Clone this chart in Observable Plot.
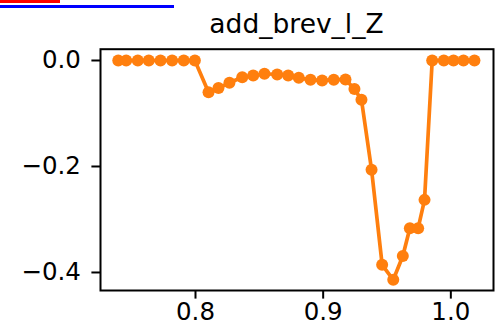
<!DOCTYPE html>
<html>
<head>
<meta charset="utf-8">
<script src="https://cdn.jsdelivr.net/npm/d3@7"></script>
<script src="https://cdn.jsdelivr.net/npm/@observablehq/plot@0.6"></script>
<style>
  body { margin: 0; background: #fff; }
  #wrap { width: 495px; position: relative; font-family: "DejaVu Sans", sans-serif; }
  #title { height: 30px; padding-top: 9px; line-height: 30px; font-size: 26.5px; color: #000;
           padding-left: 100px; padding-right: 2px; text-align: center; white-space: nowrap; }
  #chart svg text { font-size: 24.5px !important; font-family: "DejaVu Sans", sans-serif !important; font-variant: normal !important; }
  #bar1, #bar2 { position: absolute; left: 0; height: 3px; background: red; }
  #bar1 { top: 0; } #bar2 { top: 5px; background: blue; }
</style>
</head>
<body>
<div id="wrap">
  <div id="title">add_brev_l_Z</div>
  <div id="chart"></div>
  <div id="bar1"></div>
  <div id="bar2"></div>
</div>
<script>
const titleText = "add_brev_l_Z";
const xValues = [0.7395, 0.7457, 0.7548, 0.7634, 0.7726, 0.7817, 0.7908, 0.7995,
  0.8102, 0.8180, 0.8266, 0.8366, 0.8452, 0.8540, 0.8640, 0.8726, 0.8809, 0.8901,
  0.8992, 0.9083, 0.9175, 0.9245, 0.9300, 0.9379, 0.9462, 0.9549, 0.9624, 0.9679,
  0.9744, 0.9794, 0.9854, 0.9945, 1.0021, 1.0099, 1.0185];
const yValues = [0, 0, 0, 0, 0, 0, 0, 0,
  -0.0598, -0.052, -0.042, -0.0315, -0.0283, -0.025, -0.0264, -0.0283, -0.0327, -0.0365,
  -0.0377, -0.0365, -0.0358, -0.054, -0.074, -0.206, -0.3855, -0.4138, -0.369, -0.3164,
  -0.3164, -0.263, 0, 0, 0, 0, 0];
const xTicks = [0.8, 0.9, 1.0];
const yTicks = [0.0, -0.2, -0.4];

document.getElementById("title").textContent = titleText;
const data = xValues.map((x, i) => ({x, y: yValues[i]}));
const fmt = d3.format(".1f");
const color = "#ff7f0e";

const chart = Plot.plot({
  width: 495,
  height: 294,
  marginLeft: 100,
  marginRight: 2,
  marginTop: 9.7,
  marginBottom: 43,
  style: { fontFamily: "DejaVu Sans, sans-serif", fontSize: "24.5px", color: "#000", background: "#fff" },
  x: { domain: [0.72559, 1.03342], ticks: xTicks, tickFormat: fmt, label: null },
  y: { domain: [-0.434, 0.0213], ticks: yTicks, tickFormat: fmt, label: null },
  marks: [
    Plot.axisX({ ticks: xTicks, tickFormat: fmt, tickSize: 8.6, tickPadding: 3, strokeWidth: 2, label: null }),
    Plot.axisY({ ticks: yTicks, tickFormat: fmt, tickSize: 8.6, tickPadding: 11, strokeWidth: 2, label: null }),
    Plot.line(data, { x: "x", y: "y", stroke: color, strokeWidth: 3.7 }),
    Plot.dot(data, { x: "x", y: "y", r: 6, fill: color, stroke: "none" }),
    Plot.frame({ stroke: "#000", strokeWidth: 2 })
  ]
});
document.getElementById("chart").appendChild(chart);
const texts = [...chart.querySelectorAll("text")];
const neg = texts.find(t => t.textContent.indexOf("0.2") >= 0);
document.getElementById("bar1").style.width = neg.getBBox().width + "px";
const sp = document.createElement("span"); sp.textContent = titleText;
document.getElementById("title").appendChild(sp);
document.getElementById("bar2").style.width = sp.getBoundingClientRect().width + "px";
sp.remove();
</script>
</body>
</html>
